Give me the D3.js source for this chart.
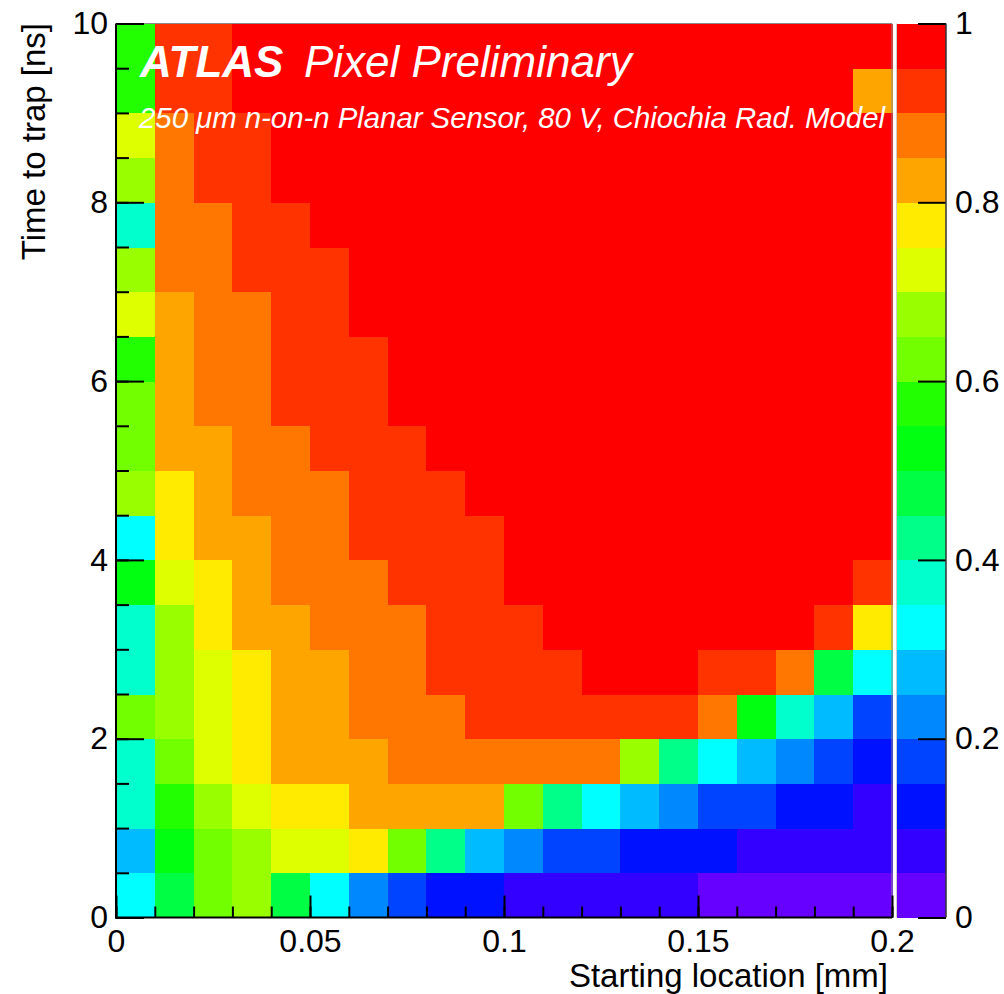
<!DOCTYPE html>
<html>
<head>
<meta charset="utf-8">
<script src="https://cdn.jsdelivr.net/npm/d3@7"></script>
<style>
  html, body { margin: 0; padding: 0; background: #ffffff; }
  svg { display: block; font-family: "Liberation Sans", Arial, Helvetica, sans-serif; }
</style>
</head>
<body>
<svg id="chart" width="1004" height="994"></svg>
<script>
// ---------------- DATA ----------------
// X bins: starting location [mm], 20 bins of 0.01 from 0 to 0.2
const xBinEdges = [0,0.01,0.02,0.03,0.04,0.05,0.06,0.07,0.08,0.09,0.10,0.11,0.12,0.13,0.14,0.15,0.16,0.17,0.18,0.19,0.20];
// Y bins: time to trap [ns], 20 bins of 0.5 from 0 to 10
const yBinEdges = [0,0.5,1,1.5,2,2.5,3,3.5,4,4.5,5,5.5,6,6.5,7,7.5,8,8.5,9,9.5,10];

// Cell values (fraction of charge), one array per time-to-trap bin (bottom to top)
const t00 = [0.33,0.48,0.63,0.68,0.48,0.33,0.23,0.18,0.13,0.13,0.08,0.08,0.08,0.08,0.08,0.03,0.03,0.03,0.03,0.03];
const t05 = [0.28,0.53,0.63,0.68,0.73,0.73,0.78,0.63,0.43,0.28,0.23,0.18,0.18,0.13,0.13,0.13,0.08,0.08,0.08,0.08];
const t10 = [0.38,0.58,0.68,0.73,0.78,0.78,0.83,0.83,0.83,0.83,0.63,0.43,0.33,0.28,0.23,0.18,0.18,0.13,0.13,0.08];
const t15 = [0.38,0.63,0.73,0.78,0.83,0.83,0.83,0.88,0.88,0.88,0.88,0.88,0.88,0.68,0.43,0.33,0.28,0.23,0.18,0.13];
const t20 = [0.63,0.68,0.73,0.78,0.83,0.83,0.88,0.88,0.88,0.93,0.93,0.93,0.93,0.93,0.93,0.88,0.53,0.38,0.28,0.18];
const t25 = [0.38,0.68,0.73,0.78,0.83,0.83,0.88,0.88,0.93,0.93,0.93,0.93,0.98,0.98,0.98,0.93,0.93,0.88,0.48,0.33];
const t30 = [0.38,0.68,0.78,0.83,0.83,0.88,0.88,0.88,0.93,0.93,0.93,0.98,0.98,0.98,0.98,0.98,0.98,0.98,0.93,0.78];
const t35 = [0.53,0.73,0.78,0.83,0.88,0.88,0.88,0.93,0.93,0.93,0.98,0.98,0.98,0.98,0.98,0.98,0.98,0.98,0.98,0.93];
const t40 = [0.33,0.78,0.83,0.83,0.88,0.88,0.93,0.93,0.93,0.93,0.98,0.98,0.98,0.98,0.98,0.98,0.98,0.98,0.98,0.98];
const t45 = [0.68,0.78,0.83,0.88,0.88,0.88,0.93,0.93,0.93,0.98,0.98,0.98,0.98,0.98,0.98,0.98,0.98,0.98,0.98,0.98];
const t50 = [0.63,0.83,0.83,0.88,0.88,0.93,0.93,0.93,0.98,0.98,0.98,0.98,0.98,0.98,0.98,0.98,0.98,0.98,0.98,0.98];
const t55 = [0.63,0.83,0.88,0.88,0.93,0.93,0.93,0.98,0.98,0.98,0.98,0.98,0.98,0.98,0.98,0.98,0.98,0.98,0.98,0.98];
const t60 = [0.58,0.83,0.88,0.88,0.93,0.93,0.93,0.98,0.98,0.98,0.98,0.98,0.98,0.98,0.98,0.98,0.98,0.98,0.98,0.98];
const t65 = [0.73,0.83,0.88,0.88,0.93,0.93,0.98,0.98,0.98,0.98,0.98,0.98,0.98,0.98,0.98,0.98,0.98,0.98,0.98,0.98];
const t70 = [0.68,0.88,0.88,0.93,0.93,0.93,0.98,0.98,0.98,0.98,0.98,0.98,0.98,0.98,0.98,0.98,0.98,0.98,0.98,0.98];
const t75 = [0.38,0.88,0.88,0.93,0.93,0.98,0.98,0.98,0.98,0.98,0.98,0.98,0.98,0.98,0.98,0.98,0.98,0.98,0.98,0.98];
const t80 = [0.68,0.88,0.93,0.93,0.98,0.98,0.98,0.98,0.98,0.98,0.98,0.98,0.98,0.98,0.98,0.98,0.98,0.98,0.98,0.98];
const t85 = [0.73,0.88,0.93,0.93,0.98,0.98,0.98,0.98,0.98,0.98,0.98,0.98,0.98,0.98,0.98,0.98,0.98,0.98,0.98,0.98];
const t90 = [0.58,0.93,0.93,0.98,0.98,0.98,0.98,0.98,0.98,0.98,0.98,0.98,0.98,0.98,0.98,0.98,0.98,0.98,0.98,0.83];
const t95 = [0.58,0.93,0.93,0.98,0.98,0.98,0.98,0.98,0.98,0.98,0.98,0.98,0.98,0.98,0.98,0.98,0.98,0.98,0.98,0.98];
const rowsData = [t00,t05,t10,t15,t20,t25,t30,t35,t40,t45,t50,t55,t60,t65,t70,t75,t80,t85,t90,t95];

// Discrete palette, 20 levels from 0 to 1 (low -> high)
const palette = ["#6600ff","#3300ff","#0011ff","#0044ff","#0088ff","#00bbff","#00ffff","#00ffcc",
                 "#00ff88","#00ff44","#00ff11","#22ff00","#72ff00","#99ff00","#ddff00","#ffeb00",
                 "#ffa500","#ff7700","#ff3300","#ff0000"];

const xTickValues = [0, 0.05, 0.1, 0.15, 0.2];
const xTickLabels = ["0", "0.05", "0.1", "0.15", "0.2"];
const xMinorStep = 0.01;
const yTickValues = [0, 2, 4, 6, 8, 10];
const yTickLabels = ["0", "2", "4", "6", "8", "10"];
const yMinorStep = 0.5;
const zTickValues = [0, 0.2, 0.4, 0.6, 0.8, 1];
const zTickLabels = ["0", "0.2", "0.4", "0.6", "0.8", "1"];

const xTitle = "Starting location [mm]";
const yTitle = "Time to trap [ns]";
const titleBold = "ATLAS";
const titleRest = "Pixel Preliminary";
const subTitle = "250 \u03bcm n-on-n Planar Sensor, 80 V, Chiochia Rad. Model";

// ---------------- LAYOUT ----------------
const L = 116, R = 892, T = 23.5, B = 917.5;
const cbL = 897, cbR = 946;
const svg = d3.select("#chart");

const x = d3.scaleLinear().domain([0, 0.2]).range([L, R]);
const y = d3.scaleLinear().domain([0, 10]).range([B, T]);
const z = d3.scaleLinear().domain([0, 1]).range([B, T]);
const colorOf = v => palette[Math.max(0, Math.min(palette.length - 1, Math.floor(v * palette.length)))];

// cells
const cells = [];
rowsData.forEach((row, j) => {
  row.forEach((v, i) => {
    cells.push({x0: xBinEdges[i], x1: xBinEdges[i+1], y0: yBinEdges[j], y1: yBinEdges[j+1], v});
  });
});
svg.append("g").selectAll("rect").data(cells).join("rect")
  .attr("x", d => x(d.x0))
  .attr("y", d => y(d.y1))
  .attr("width", d => x(d.x1) - x(d.x0) + 0.5)
  .attr("height", d => y(d.y0) - y(d.y1) + 0.5)
  .attr("fill", d => colorOf(d.v))
  .attr("shape-rendering", "crispEdges");

// frame (top/right thin)
svg.append("line").attr("x1", L).attr("x2", R).attr("y1", T).attr("y2", T)
  .attr("stroke", "#8a8a8a").attr("stroke-width", 1);
svg.append("line").attr("x1", R).attr("x2", R).attr("y1", T).attr("y2", B)
  .attr("stroke", "#8a8a8a").attr("stroke-width", 1);

// axes
const tickFont = 32;
function styleAxis(g) {
  g.select(".domain").remove();
  g.selectAll(".tick line").attr("stroke", "#000").attr("stroke-width", 2);
  g.selectAll(".tick text").attr("fill", "#000").attr("font-size", tickFont)
    .attr("font-family", "Liberation Sans, Arial, sans-serif");
}
// y minor
const yMinor = d3.range(0, 10 + 1e-9, yMinorStep);
svg.append("g").attr("transform", `translate(${L},0)`)
  .call(d3.axisLeft(y).tickValues(yMinor).tickSizeInner(-13).tickSizeOuter(0).tickFormat(""))
  .call(styleAxis);
// y major
svg.append("g").attr("transform", `translate(${L},0)`)
  .call(d3.axisLeft(y).tickValues(yTickValues).tickSizeInner(-28).tickSizeOuter(0).tickPadding(8)
    .tickFormat((d, i) => yTickLabels[i]))
  .call(styleAxis);
// x minor
const xMinor = d3.range(0, 0.2 + 1e-9, xMinorStep);
svg.append("g").attr("transform", `translate(0,${B})`)
  .call(d3.axisBottom(x).tickValues(xMinor).tickSizeInner(-11).tickSizeOuter(0).tickFormat(""))
  .call(styleAxis);
// x major
svg.append("g").attr("transform", `translate(0,${B})`)
  .call(d3.axisBottom(x).tickValues(xTickValues).tickSizeInner(-22).tickSizeOuter(0).tickPadding(12)
    .tickFormat((d, i) => xTickLabels[i]))
  .call(styleAxis);

// left and bottom axis lines
svg.append("line").attr("x1", L).attr("x2", L).attr("y1", T).attr("y2", B + 1)
  .attr("stroke", "#000").attr("stroke-width", 2);
svg.append("line").attr("x1", L - 1).attr("x2", R).attr("y1", B).attr("y2", B)
  .attr("stroke", "#000").attr("stroke-width", 2);

// colour bar
const bands = palette.map((c, k) => ({lo: k / palette.length, hi: (k + 1) / palette.length, c}));
svg.append("g").selectAll("rect").data(bands).join("rect")
  .attr("x", cbL).attr("width", cbR - cbL)
  .attr("y", d => z(d.hi)).attr("height", d => z(d.lo) - z(d.hi) + 0.5)
  .attr("fill", d => d.c).attr("shape-rendering", "crispEdges");
svg.append("line").attr("x1", cbL - 0.5).attr("x2", cbL - 0.5).attr("y1", T).attr("y2", B)
  .attr("stroke", "#cccccc").attr("stroke-width", 1);
svg.append("g").attr("transform", `translate(${cbR},0)`)
  .call(d3.axisRight(z).tickValues(zTickValues).tickSizeInner(-28).tickSizeOuter(0).tickPadding(9)
    .tickFormat((d, i) => zTickLabels[i]))
  .call(styleAxis);
svg.append("line").attr("x1", cbR).attr("x2", cbR).attr("y1", T).attr("y2", B)
  .attr("stroke", "#333").attr("stroke-width", 1.5);

// axis titles
svg.append("text").attr("x", 888).attr("y", 987).attr("text-anchor", "end")
  .attr("font-size", 33).attr("fill", "#000").text(xTitle);
svg.append("text").attr("transform", "translate(45,23) rotate(-90)").attr("text-anchor", "end")
  .attr("font-size", 33).attr("fill", "#000").text(yTitle);

// labels on the plot
svg.append("text").attr("x", 140).attr("y", 77).attr("font-size", 44)
  .attr("font-style", "italic").attr("font-weight", "bold").attr("fill", "#fff").text(titleBold);
svg.append("text").attr("x", 304).attr("y", 77).attr("font-size", 44)
  .attr("font-style", "italic").attr("fill", "#fff").text(titleRest);
svg.append("text").attr("x", 139).attr("y", 128).attr("font-size", 29)
  .attr("textLength", 746).attr("lengthAdjust", "spacingAndGlyphs")
  .attr("font-style", "italic").attr("fill", "#fff").text(subTitle);
</script>
</body>
</html>
